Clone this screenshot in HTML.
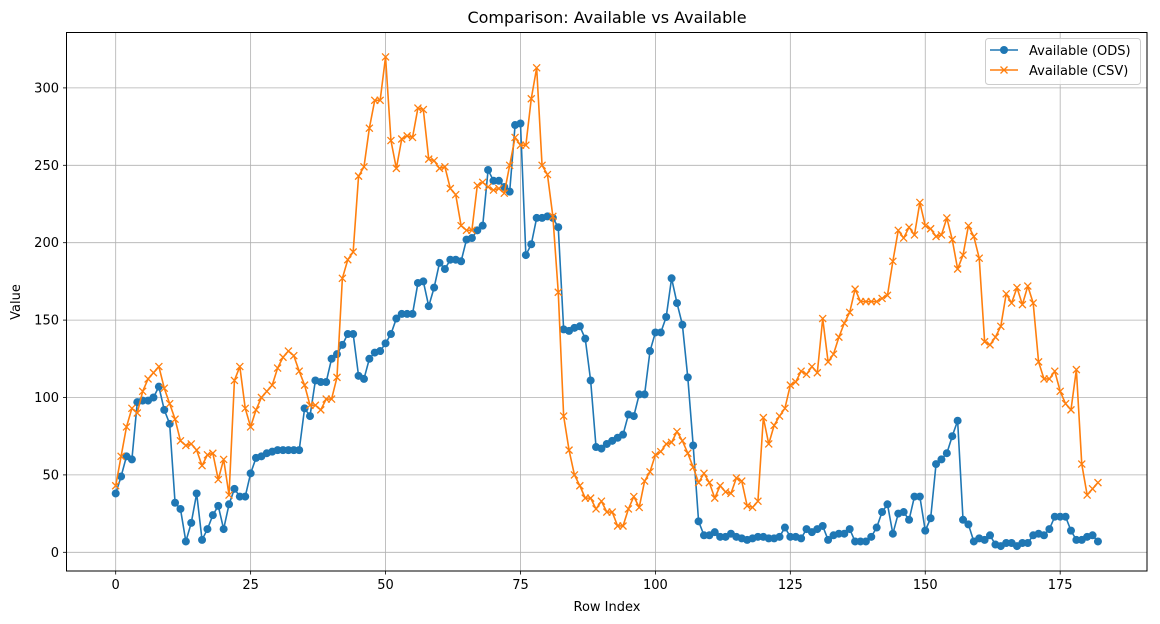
<!DOCTYPE html>
<html><head><meta charset="utf-8"><style>
body{margin:0;background:#fff;}
svg{display:block;font-family:"DejaVu Sans","Liberation Sans",sans-serif;}
</style></head><body>
<svg id="chart" width="1160" height="624" xmlns="http://www.w3.org/2000/svg">
<rect width="1160" height="624" fill="#fff"/>
<g id="grid"></g>
<g id="series"></g>
<rect x="66.5" y="32.5" width="1080.5" height="538.5" fill="none" stroke="#000" stroke-width="1"/>
<g id="ticks"></g>
<text x="607" y="23" font-size="16" text-anchor="middle">Comparison: Available vs Available</text>
<text x="607" y="611" font-size="13" text-anchor="middle">Row Index</text>
<text x="20" y="302" font-size="13" text-anchor="middle" transform="rotate(-90 20 302)">Value</text>
<g>
<rect x="985.5" y="38.5" width="155" height="46" rx="3" fill="#fff" fill-opacity="0.8" stroke="#ccc"/>
<g>
<line x1="990" y1="50" x2="1018" y2="50" stroke="#1f77b4" stroke-width="1.6"/>
<circle cx="1004" cy="50" r="4" fill="#1f77b4"/>
<text x="1029" y="55" font-size="13">Available (ODS)</text></g>
<g>
<line x1="990" y1="70" x2="1018" y2="70" stroke="#ff7f0e" stroke-width="1.6"/>
<path d="M1000.5 66.5L1007.5 73.5M1000.5 73.5L1007.5 66.5" stroke="#ff7f0e" stroke-width="1.3"/>
<text x="1029" y="75" font-size="13">Available (CSV)</text></g>
</g>
</svg>
<script>
const xTicks=[0,25,50,75,100,125,150,175];
const yTicks=[0,50,100,150,200,250,300];
const odsValues=[38,49,62,60,97,98,98,100,107,92,83,32,28,7,19,38,8,15,24,30,15,31,41,36,36,51,61,62,64,65,66,66,66,66,66,93,88,111,110,110,125,128,134,141,141,114,112,125,129,130,135,141,151,154,154,154,174,175,159,171,187,183,189,189,188,202,203,208,211,247,240,240,236,233,276,277,192,199,216,216,217,216,210,
144,143,145,146,138,111,68,67,70,72,74,76,89,88,102,102,130,142,142,152,177,161,147,113,69,20,11,11,13,10,10,12,10,9,8,9,10,10,9,9,10,16,10,10,9,15,13,15,17,8,11,12,12,15,7,7,7,10,16,26,31,12,25,26,21,36,36,14,22,57,60,64,75,85,21,18,7,9,8,11,5,4,6,6,4,6,6,11,12,11,15,23,23,23,14,8,8,10,11,7];
const csvValues=[43,62,81,93,90,104,112,116,120,106,96,86,72,69,70,66,56,63,64,47,60,37,111,120,93,81,92,100,104,108,119,126,130,127,117,108,95,95,92,99,99,113,177,189,194,243,249,274,292,292,320,266,248,267,269,268,287,286,254,253,248,249,235,231,211,208,208,237,239,236,234,235,232,250,268,263,263,293,313,250,244,217,168,
88,66,50,43,35,35,28,33,26,26,17,17,28,36,29,46,52,63,65,70,71,78,72,64,55,45,51,45,35,43,39,38,48,46,30,29,33,87,70,82,88,93,108,110,117,115,120,116,151,123,128,139,148,155,170,162,162,162,162,164,166,188,208,203,210,205,226,211,209,204,205,216,202,183,192,211,204,190,136,134,139,146,167,161,171,160,172,161,123,112,112,117,104,96,92,118,57,37,41,45];
const NS="http://www.w3.org/2000/svg";
const X0=115.7,XS=5.397,Y0=552.3,YS=1.548;
function xs(v){return X0+v*XS;}
function ys(v){return Y0-v*YS;}
function mk(tag,attrs,parent){const e=document.createElementNS(NS,tag);for(const k in attrs)e.setAttribute(k,attrs[k]);parent.appendChild(e);return e;}
const grid=document.getElementById('grid'),ticks=document.getElementById('ticks'),series=document.getElementById('series');
xTicks.forEach(t=>{const x=xs(t);
 const g=mk('line',{x1:x,x2:x,y1:32.5,y2:571,stroke:'#b0b0b0','stroke-width':0.8},grid);
 
 
 mk('line',{x1:x,x2:x,y1:571,y2:574.5,stroke:'#000','stroke-width':0.8},ticks);
 const tx=mk('text',{x:x,y:589,'font-size':13,'text-anchor':'middle'},ticks);tx.textContent=t;
 
 
});
yTicks.forEach(t=>{const y=ys(t);
 const g=mk('line',{x1:66.5,x2:1147,y1:y,y2:y,stroke:'#b0b0b0','stroke-width':0.8},grid);
 
 
 mk('line',{x1:63,x2:66.5,y1:y,y2:y,stroke:'#000','stroke-width':0.8},ticks);
 const tx=mk('text',{x:59,y:y+4.5,'font-size':13,'text-anchor':'end'},ticks);tx.textContent=t;
 
 
});
function drawLine(vals,color,name){
 const p=mk('polyline',{points:vals.map((v,i)=>xs(i)+','+ys(v)).join(' '),fill:'none',stroke:color,'stroke-width':1.6,'stroke-linejoin':'round'},series);
 
 
}
drawLine(odsValues,'#1f77b4','ods');
odsValues.forEach((v,i)=>{
 const c=mk('circle',{cx:xs(i),cy:ys(v),r:4,fill:'#1f77b4'},series);
 
 
});
drawLine(csvValues,'#ff7f0e','csv');
csvValues.forEach((v,i)=>{const x=xs(i),y=ys(v),d=3.5;
 const m=mk('path',{d:`M${x-d} ${y-d}L${x+d} ${y+d}M${x-d} ${y+d}L${x+d} ${y-d}`,stroke:'#ff7f0e','stroke-width':1.3},series);
 
 
});
</script>
</body></html>
